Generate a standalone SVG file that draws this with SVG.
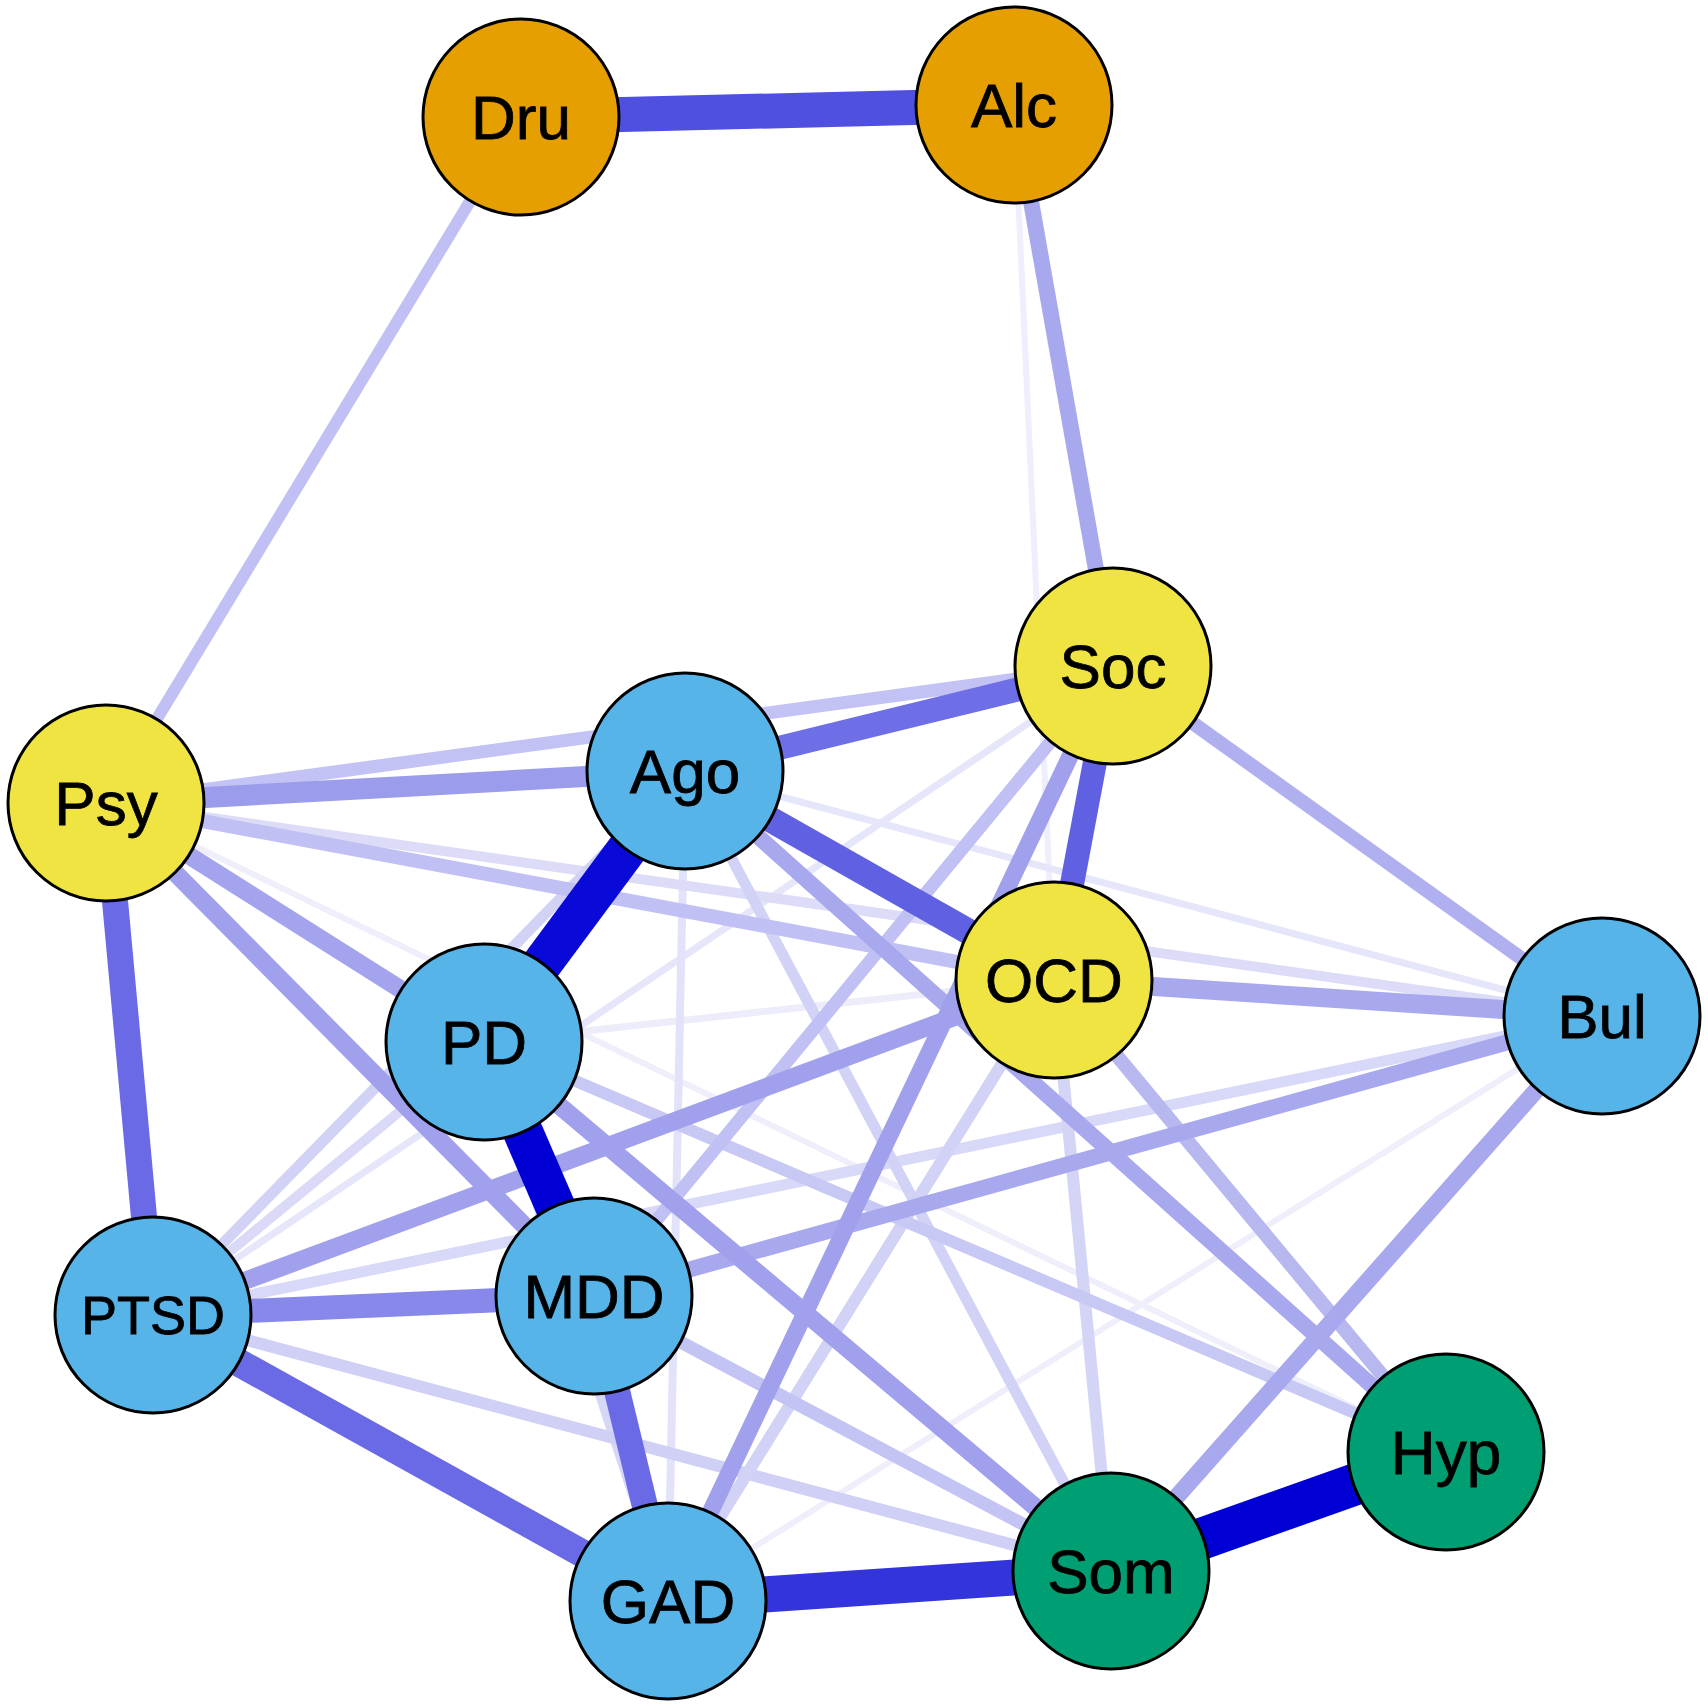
<svg xmlns="http://www.w3.org/2000/svg" width="1708" height="1708" viewBox="0 0 1708 1708">
<style>
.e{fill:none;stroke-linecap:butt}
.n circle{stroke:#000;stroke-width:3}
.n text{font-family:"Liberation Sans",Arial,sans-serif;font-size:62px;text-anchor:middle;fill:#000;stroke:#000;stroke-width:0.8}
.or{fill:#E69F00}.ye{fill:#F0E442}.bl{fill:#56B4E9}.gr{fill:#009E73}
</style>
<rect width="1708" height="1708" fill="#fff"/>
<g id="edges" class="e">
<line id="Alc-OCD" x1="1014" y1="105" x2="1054" y2="980" stroke="#eeeefc" stroke-width="6"/>
<line id="GAD-Bul" x1="668" y1="1601" x2="1602" y2="1016" stroke="#efeffc" stroke-width="6"/>
<line id="Psy-Hyp" x1="106" y1="803" x2="1446" y2="1452" stroke="#efeffc" stroke-width="6"/>
<line id="PD-OCD" x1="484" y1="1042" x2="1054" y2="980" stroke="#ececfb" stroke-width="7"/>
<line id="Ago-Bul" x1="685" y1="771" x2="1602" y2="1016" stroke="#e6e6fa" stroke-width="7"/>
<line id="PTSD-Soc" x1="153" y1="1315" x2="1113" y2="666" stroke="#e6e6fa" stroke-width="7"/>
<line id="Ago-GAD" x1="685" y1="771" x2="668" y2="1601" stroke="#e2e2fa" stroke-width="8"/>
<line id="Psy-Bul" x1="106" y1="803" x2="1602" y2="1016" stroke="#dcdcf8" stroke-width="10"/>
<line id="PTSD-PD" x1="153" y1="1315" x2="484" y2="1042" stroke="#dadaf8" stroke-width="10"/>
<line id="PD-GAD" x1="484" y1="1042" x2="668" y2="1601" stroke="#d6d6f7" stroke-width="10"/>
<line id="PTSD-Bul" x1="153" y1="1315" x2="1602" y2="1016" stroke="#d8d8f8" stroke-width="11"/>
<line id="PTSD-Ago" x1="153" y1="1315" x2="685" y2="771" stroke="#d2d2f6" stroke-width="11"/>
<line id="Ago-Som" x1="685" y1="771" x2="1111" y2="1571" stroke="#d2d2f6" stroke-width="11"/>
<line id="PTSD-Som" x1="153" y1="1315" x2="1111" y2="1571" stroke="#d0d0f6" stroke-width="12"/>
<line id="GAD-OCD" x1="668" y1="1601" x2="1054" y2="980" stroke="#d2d2f6" stroke-width="12"/>
<line id="OCD-Som" x1="1054" y1="980" x2="1111" y2="1571" stroke="#d4d4f6" stroke-width="12"/>
<line id="PD-Hyp" x1="484" y1="1042" x2="1446" y2="1452" stroke="#c8c8f4" stroke-width="12"/>
<line id="Dru-Psy" x1="521" y1="117" x2="106" y2="803" stroke="#c0c0f4" stroke-width="12"/>
<line id="Psy-Soc" x1="106" y1="803" x2="1113" y2="666" stroke="#c2c2f4" stroke-width="13"/>
<line id="MDD-Som" x1="594" y1="1296" x2="1111" y2="1571" stroke="#c4c4f4" stroke-width="13"/>
<line id="Soc-MDD" x1="1113" y1="666" x2="594" y2="1296" stroke="#c0c0f4" stroke-width="13"/>
<line id="Psy-OCD" x1="106" y1="803" x2="1054" y2="980" stroke="#c0c0f4" stroke-width="14"/>
<line id="OCD-Hyp" x1="1054" y1="980" x2="1446" y2="1452" stroke="#b8b8f0" stroke-width="14"/>
<line id="Soc-Bul" x1="1113" y1="666" x2="1602" y2="1016" stroke="#b0b0f0" stroke-width="14"/>
<line id="Alc-Soc" x1="1014" y1="105" x2="1113" y2="666" stroke="#a8a8ee" stroke-width="16"/>
<line id="Ago-Hyp" x1="685" y1="771" x2="1446" y2="1452" stroke="#a8a8ee" stroke-width="16"/>
<line id="MDD-Bul" x1="594" y1="1296" x2="1602" y2="1016" stroke="#a8a8ee" stroke-width="16"/>
<line id="Som-Bul" x1="1111" y1="1571" x2="1602" y2="1016" stroke="#a8a8ee" stroke-width="17"/>
<line id="GAD-Soc" x1="668" y1="1601" x2="1113" y2="666" stroke="#a0a0ec" stroke-width="17"/>
<line id="Psy-PD" x1="106" y1="803" x2="484" y2="1042" stroke="#a4a4ee" stroke-width="18"/>
<line id="Psy-MDD" x1="106" y1="803" x2="594" y2="1296" stroke="#a0a0ec" stroke-width="18"/>
<line id="PD-Som" x1="484" y1="1042" x2="1111" y2="1571" stroke="#a0a0ec" stroke-width="18"/>
<line id="PTSD-OCD" x1="153" y1="1315" x2="1054" y2="980" stroke="#a0a0ec" stroke-width="18"/>
<line id="OCD-Bul" x1="1054" y1="980" x2="1602" y2="1016" stroke="#a8a8ee" stroke-width="19"/>
<line id="Psy-Ago" x1="106" y1="803" x2="685" y2="771" stroke="#9c9cec" stroke-width="21"/>
<line id="PTSD-MDD" x1="153" y1="1315" x2="594" y2="1296" stroke="#8888ea" stroke-width="24"/>
<line id="Soc-Ago" x1="1113" y1="666" x2="685" y2="771" stroke="#6e6ee6" stroke-width="24"/>
<line id="MDD-GAD" x1="594" y1="1296" x2="668" y2="1601" stroke="#6a6ae6" stroke-width="26"/>
<line id="Psy-PTSD" x1="106" y1="803" x2="153" y2="1315" stroke="#6a6ae6" stroke-width="26"/>
<line id="PTSD-GAD" x1="153" y1="1315" x2="668" y2="1601" stroke="#6a6ae6" stroke-width="28"/>
<line id="Soc-OCD" x1="1113" y1="666" x2="1054" y2="980" stroke="#6060e2" stroke-width="24"/>
<line id="Ago-OCD" x1="685" y1="771" x2="1054" y2="980" stroke="#6060e2" stroke-width="26"/>
<line id="Dru-Alc" x1="521" y1="117" x2="1014" y2="105" stroke="#4f4fe0" stroke-width="35"/>
<line id="GAD-Som" x1="668" y1="1601" x2="1111" y2="1571" stroke="#3434dc" stroke-width="36"/>
<line id="Ago-PD" x1="685" y1="771" x2="484" y2="1042" stroke="#0a0ad8" stroke-width="40"/>
<line id="PD-MDD" x1="484" y1="1042" x2="594" y2="1296" stroke="#0000d4" stroke-width="40"/>
<line id="Som-Hyp" x1="1111" y1="1571" x2="1446" y2="1452" stroke="#0000d4" stroke-width="42"/>
</g>
<g id="Dru" class="n"><circle class="or" cx="521" cy="117" r="98"/><text x="521" y="139">Dru</text></g>
<g id="Alc" class="n"><circle class="or" cx="1014" cy="105" r="98"/><text x="1014" y="127">Alc</text></g>
<g id="Soc" class="n"><circle class="ye" cx="1113" cy="666" r="98"/><text x="1113" y="688">Soc</text></g>
<g id="Psy" class="n"><circle class="ye" cx="106" cy="803" r="98"/><text x="106" y="825">Psy</text></g>
<g id="Ago" class="n"><circle class="bl" cx="685" cy="771" r="98"/><text x="685" y="793">Ago</text></g>
<g id="OCD" class="n"><circle class="ye" cx="1054" cy="980" r="98"/><text x="1054" y="1002">OCD</text></g>
<g id="Bul" class="n"><circle class="bl" cx="1602" cy="1016" r="98"/><text x="1602" y="1038">Bul</text></g>
<g id="PD" class="n"><circle class="bl" cx="484" cy="1042" r="98"/><text x="484" y="1064">PD</text></g>
<g id="PTSD" class="n"><circle class="bl" cx="153" cy="1315" r="98"/><text x="153" y="1334" style="font-size:54px">PTSD</text></g>
<g id="MDD" class="n"><circle class="bl" cx="594" cy="1296" r="98"/><text x="594" y="1318">MDD</text></g>
<g id="GAD" class="n"><circle class="bl" cx="668" cy="1601" r="98"/><text x="668" y="1623">GAD</text></g>
<g id="Som" class="n"><circle class="gr" cx="1111" cy="1571" r="98"/><text x="1111" y="1593">Som</text></g>
<g id="Hyp" class="n"><circle class="gr" cx="1446" cy="1452" r="98"/><text x="1446" y="1474">Hyp</text></g>
</svg>
